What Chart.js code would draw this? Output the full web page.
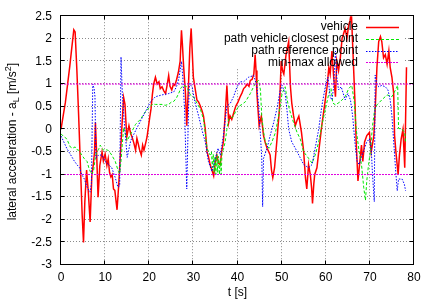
<!DOCTYPE html>
<html><head><meta charset="utf-8">
<script src="https://cdn.jsdelivr.net/npm/chart.js@4"></script>
<style>html,body{margin:0;padding:0;background:#fff}canvas{display:block}</style>
</head><body>
<canvas id="c" width="443" height="306"></canvas>
<script>
const xTickValues=[0,10,20,30,40,50,60,70,80];
const xTickLabels=['0','10','20','30','40','50','60','70','80'];
const yTickValues=[-3,-2.5,-2,-1.5,-1,-0.5,0,0.5,1,1.5,2,2.5];
const yTickLabels=['-3','-2.5','-2','-1.5','-1','-0.5','0','0.5','1','1.5','2','2.5'];
const xTitle='t [s]';
const seriesNames=['vehicle','path vehicle closest point','path reference point','min-max allowed'];
const seriesColors=['#ff0000','#00e800','#0000ff','#e000e0'];

const vehicleT=[0,0.5,1,1.5,2,2.5,2.9,3.2,3.6,4.0,4.4,4.8,5.1,5.4,5.8,6.2,6.6,7.0,7.3,7.6,
7.8,8.1,8.4,8.8,9.3,9.6,10.0,10.4,10.7,11.0,11.3,11.6,11.9,12.2,12.7,13.1,13.6,14.0,14.2,14.5,
14.9,15.4,15.8,16.1,16.5,16.9,17.2,17.5,17.8,18.2,18.5,18.8,19.2,19.5,20.1,20.4,20.7,21.0,21.4,21.8,
22.2,22.5,22.9,23.3,23.7,24.0,24.4,24.7,25.1,25.5,25.8,26.2,26.6,27.0,27.3,27.5,27.8,28.2,28.5,28.9,
29.2,29.5,29.7,30.0,30.4,30.8,31.2,31.6,32.0,32.3,32.7,33.1,33.4,33.8,34.2,34.6,35.0,35.3,35.7,36.1,
36.4,36.8,37.2,37.6,38.0,38.3,38.7,39.1,39.6,40.1,40.6,41.0,41.4,41.8,42.2,42.6,42.9,43.3,43.7,44.0,
44.2,44.4,44.9,45.4,45.9,46.3,46.7,47.1,47.4,47.7,48.0,48.4,48.9,49.5,49.9,50.2,50.5,51.0,51.3,51.6,
52.0,52.3,52.7,53.1,53.5,53.9,54.5,55.0,55.4,55.7,56.1,56.5,56.8,57.0,57.3,57.5,58.0,58.5,59.1,59.8,
60.3,60.7,61.0,61.4,61.8,62.2,62.5,62.9,63.3,63.7,64.0,64.4,64.8,65.2,65.5,65.8,66.1,66.6,66.9,67.3,
67.8,68.1,68.4,68.8,69.3,69.9,70.3,70.9,71.2,71.6,72.0,72.4,72.7,73.1,73.5,73.9,74.3,74.6,75.0,75.4,
75.6,75.9,76.4,76.7,77.1,77.5,77.9,78.3];
const vehicleA=[0,0.3,0.6,1.0,1.4,1.85,2.2,2.15,1.3,0.3,-0.8,-1.9,-2.5,-1.6,-0.9,-1.4,-2.05,-1.0,-0.8,-0.5,
0.15,-0.6,-1.5,-0.8,-0.5,-0.7,-0.55,-0.8,-0.65,-0.95,-1.05,-1.0,-1.32,-1.35,-1.78,-1.2,-0.3,0.4,0.7,0.55,
-0.17,0.08,-0.1,-0.17,-0.3,-0.46,-0.2,-0.32,-0.45,-0.57,-0.35,-0.46,-0.3,-0.17,0.26,0.45,0.76,1.0,1.15,1.0,
1.05,0.9,0.94,0.85,0.79,0.95,1.19,0.95,0.87,1.0,0.97,1.1,1.26,1.5,2.19,1.9,1.37,0.8,0.08,1.0,
1.8,2.23,1.8,1.15,0.9,0.65,0.6,0.51,0.4,0.29,0.0,-0.5,-0.6,-0.78,-0.9,-1.03,-0.7,-0.57,-0.75,-0.78,
-0.5,-0.28,0.3,0.97,0.15,0.3,0.22,0.35,0.51,0.6,0.72,0.8,0.9,0.94,1.0,0.95,1.08,1.1,1.22,1.65,
1.3,0.79,0.08,0.29,-0.14,-0.3,-0.42,-0.5,-0.57,-0.9,-1.07,-0.85,-0.28,0.44,1.51,1.3,1.22,1.65,1.8,1.94,
0.94,0.58,0.3,0.08,0.2,0.29,-0.07,-0.5,-1.07,-1.32,-0.78,-1.0,-1.3,-1.64,-1.2,-1.0,-0.85,-0.42,0.08,0.58,
0.94,1.37,1.22,1.73,1.15,0.72,1.51,1.3,1.58,2.01,2.1,2.23,2.01,2.3,2.4,2.6,1.87,0.65,-0.28,-1.14,
-0.64,-0.35,-0.71,-0.28,-0.14,-0.07,-0.5,-0.14,0.44,1.37,1.94,2.05,1.94,1.58,1.65,1.44,1.73,1.37,1.15,0.79,
-0.14,-0.5,-1.0,-0.57,-0.21,0.0,-0.85,1.37];

const closestT=[0,0.5,1.3,2.1,2.6,3.2,3.6,4.0,4.7,5.3,5.9,6.3,6.7,7.0,7.4,7.8,8.1,8.5,8.9,9.3,
9.6,10.1,10.6,11.0,11.5,12.3,13.0,13.3,13.6,13.9,14.2,14.6,15.0,15.8,16.9,18.0,19.2,20.3,20.8,21.4,
22.2,22.9,23.6,24.4,25.0,25.6,26.2,26.7,27.2,27.8,28.5,28.9,29.3,30.0,30.8,31.6,32.3,32.7,33.1,33.8,
34.1,34.3,34.5,34.7,34.9,35.1,35.3,35.5,35.7,35.9,36.1,36.3,36.5,36.8,37.2,37.6,38.0,38.5,39.1,39.6,
40.2,41.0,41.8,42.9,44.0,44.8,45.2,45.5,45.9,46.3,47.1,47.8,48.6,49.3,50.1,50.8,51.4,52.0,52.7,53.5,
54.2,55.0,56.1,56.9,57.6,58.4,59.1,59.9,60.7,61.2,61.6,62.2,63.3,64.4,65.2,65.9,66.5,66.9,67.5,68.1,
68.6,69.0,69.3,69.7,70.1,70.6,71.1,71.6,72.7,73.9,75.0,75.8,76.3,76.5,77.3,77.9,78.1];
const closestA=[-0.1,-0.15,-0.21,-0.39,-0.42,-0.39,-0.45,-0.46,-0.57,-0.65,-0.71,-0.85,-0.95,-1.0,-0.9,-0.6,-0.5,-0.45,-0.35,-0.42,
-0.46,-0.45,-0.46,-0.5,-0.57,-0.71,-0.93,-0.98,-0.7,-0.32,0.04,-0.1,-0.25,-0.1,0.11,0.22,0.4,0.51,0.56,0.55,
0.55,0.55,0.53,0.55,0.6,0.62,0.7,0.8,0.92,0.97,0.94,0.85,0.76,0.72,0.58,0.44,0.22,-0.1,-0.42,-0.57,
-0.5,-0.85,-0.55,-0.95,-0.6,-1.0,-0.55,-0.95,-0.6,-1.0,-0.65,-1.0,-0.5,-0.45,-0.28,0.0,0.22,0.25,0.29,0.4,
0.5,0.55,0.61,0.79,1.01,1.08,0.87,0.29,-0.05,-0.28,-0.42,-0.28,-0.07,0.29,0.79,0.94,0.58,0.36,0.15,-0.07,
-0.21,-0.5,-0.64,-0.75,-0.57,-0.28,0.08,0.44,0.79,0.9,0.58,0.54,0.61,0.72,0.9,0.97,0.58,0.0,-0.45,-0.78,
-1.28,-1.57,-1.14,-0.78,-0.5,0.08,0.44,0.54,0.65,0.76,0.72,0.87,0.97,0.02,0.0,-0.07,-0.3];

const refT=[0,0.5,1.3,2.4,3.0,3.6,4.2,4.7,5.3,5.9,6.6,6.9,7.2,7.5,7.7,7.9,8.5,9.3,10.0,10.8,
11.5,12.3,12.9,13.3,13.6,13.9,14.3,14.6,15.0,15.8,16.9,18.0,19.2,20.3,21.4,22.9,24.4,25.6,26.2,26.7,
27.3,27.6,28.0,28.5,28.9,29.1,29.7,30.4,31.2,31.9,32.7,33.4,34.2,35.0,35.6,36.1,36.8,37.6,38.4,39.1,
39.9,40.6,41.4,42.5,43.7,44.4,44.8,45.2,45.5,45.7,45.9,46.7,47.4,48.2,48.9,49.7,50.1,50.8,51.2,51.6,
52.3,53.1,53.9,55.0,56.1,56.9,57.6,58.4,59.1,59.9,60.5,61.0,61.4,61.8,62.2,62.5,62.9,63.5,64.4,65.0,
65.6,66.1,66.6,67.1,67.6,68.2,68.8,69.3,69.9,70.3,70.6,71.0,71.2,71.6,72.0,72.7,73.5,74.1,74.6,75.0,
75.4,75.8,76.2,76.5,77.3,77.8,78.1];
const refA=[-0.15,-0.25,-0.42,-0.6,-0.7,-0.78,-0.85,-1.0,-1.1,-1.28,-1.39,-1.2,1.0,0.9,0.72,-0.64,-0.57,-0.57,-0.71,-0.78,
-0.85,-1.07,-1.28,-1.25,1.6,0.79,0.2,-0.14,-0.62,-0.25,-0.03,0.18,0.4,0.61,0.72,0.76,0.79,0.83,0.95,1.12,
1.5,1.15,0.44,-1.32,0.44,1.01,0.94,0.58,0.29,0.0,-0.28,-0.71,-0.93,-0.64,-0.42,-0.57,-0.14,0.51,0.58,0.72,
0.94,1.05,1.05,1.15,1.19,0.94,0.51,-0.14,-0.64,-1.71,-0.64,-0.42,-0.14,0.15,0.44,0.87,0.97,0.79,0.44,0.0,
-0.28,-0.42,-0.57,-0.78,-0.85,-0.78,-0.42,0.0,0.51,0.94,1.15,0.72,0.65,0.94,1.73,1.15,0.87,0.94,0.65,0.79,
0.65,0.29,-0.28,-0.71,-0.78,-0.57,-0.42,-0.28,-0.21,-0.42,-1.0,-1.6,1.2,1.0,0.94,0.97,0.94,0.87,0.65,0.29,
-0.28,-0.85,-1.36,-1.1,-1.1,-1.21,-1.36];

const limitT=[0,80];
const maxA=[1,1];
const minA=[-1,-1];

function pts(t,a){return t.map((v,i)=>({x:v,y:a[i]}));}
const FONT='"Liberation Sans", Arial, Helvetica, sans-serif';
const keyStyles=[
  {color:seriesColors[0],width:1.5,dash:[]},
  {color:seriesColors[1],width:1,dash:[3,2]},
  {color:seriesColors[2],width:1,dash:[1.5,1.5]},
  {color:seriesColors[3],width:1,dash:[2,1]}
];

const framePlugin={
  id:'frame',
  beforeDatasetsDraw(chart){
    const {ctx,chartArea:a,scales:{x,y}}=chart;
    const key={l:a.right-244,r:a.right-9,b:a.top+53};
    ctx.save();
    ctx.strokeStyle='#8a8a8a';ctx.lineWidth=1;ctx.setLineDash([1,2]);
    xTickValues.forEach(v=>{
      if(v===x.min||v===x.max)return;
      const px=Math.round(x.getPixelForValue(v))-0.5;
      ctx.beginPath();
      ctx.moveTo(px,(px>key.l&&px<key.r)?key.b:a.top);
      ctx.lineTo(px,a.bottom);ctx.stroke();
    });
    yTickValues.forEach(v=>{
      if(v===y.min||v===y.max)return;
      const py=Math.round(y.getPixelForValue(v))-0.5;
      ctx.beginPath();
      if(py<key.b){ctx.moveTo(a.left,py);ctx.lineTo(key.l,py);ctx.moveTo(key.r,py);ctx.lineTo(a.right,py);}
      else{ctx.moveTo(a.left,py);ctx.lineTo(a.right,py);}
      ctx.stroke();
    });
    ctx.restore();
  },
  afterDatasetsDraw(chart){
    const {ctx,chartArea:a,scales:{x,y}}=chart;
    ctx.save();
    ctx.setLineDash([]);ctx.strokeStyle='#000';ctx.lineWidth=1;
    const L=Math.round(a.left)-0.5,R=Math.round(a.right)-0.5,T=Math.round(a.top)-0.5,B=Math.round(a.bottom)-0.5;
    ctx.beginPath();
    xTickValues.forEach(v=>{
      if(v===x.min||v===x.max)return;
      const px=Math.round(x.getPixelForValue(v))-0.5;
      ctx.moveTo(px,B);ctx.lineTo(px,B-4);ctx.moveTo(px,T);ctx.lineTo(px,T+4);
    });
    yTickValues.forEach(v=>{
      if(v===y.min||v===y.max)return;
      const py=Math.round(y.getPixelForValue(v))-0.5;
      ctx.moveTo(L,py);ctx.lineTo(L+4,py);ctx.moveTo(R,py);ctx.lineTo(R-4,py);
    });
    ctx.stroke();
    ctx.strokeRect(L,T,R-L,B-T);
    // key
    seriesNames.forEach((name,i)=>{
      const yy=a.top+10.5+11.9*i;
      const st=keyStyles[i];
      ctx.save();
      ctx.beginPath();
      ctx.strokeStyle=st.color;ctx.lineWidth=st.width;ctx.setLineDash(st.dash);
      ctx.moveTo(a.right-48,Math.round(yy)+0.5);ctx.lineTo(a.right-15,Math.round(yy)+0.5);ctx.stroke();
      ctx.restore();
      ctx.font='12px '+FONT;ctx.fillStyle='#000';ctx.textAlign='right';ctx.textBaseline='middle';
      ctx.fillText(name,a.right-56,yy);
    });
    ctx.restore();
  },
  afterDraw(chart){
    const {ctx,chartArea:a}=chart;
    ctx.save();
    ctx.fillStyle='#000';
    ctx.font='12px '+FONT;ctx.textAlign='center';ctx.textBaseline='middle';
    ctx.fillText(xTitle,(a.left+a.right)/2,293);
    const parts=[['lateral acceleration - a',12,0],['L',9,3],[' [m/s',12,0],['2',9,-5],[']',12,0]];
    let W=0;
    parts.forEach(p=>{ctx.font=p[1]+'px '+FONT;W+=ctx.measureText(p[0]).width;});
    ctx.translate(16,(a.top+a.bottom)/2+1);ctx.rotate(-Math.PI/2);
    ctx.textAlign='left';ctx.textBaseline='alphabetic';
    let cx=-W/2;
    parts.forEach(p=>{ctx.font=p[1]+'px '+FONT;ctx.fillText(p[0],cx,p[2]);cx+=ctx.measureText(p[0]).width;});
    ctx.restore();
  }
};

new Chart(document.getElementById('c'),{
  type:'line',
  data:{datasets:[
    {label:seriesNames[0],data:pts(vehicleT,vehicleA),borderColor:seriesColors[0],borderWidth:1.5,order:4},
    {label:seriesNames[1],data:pts(closestT,closestA),borderColor:seriesColors[1],borderWidth:1,borderDash:[3,2],order:3},
    {label:seriesNames[2],data:pts(refT,refA),borderColor:seriesColors[2],borderWidth:1,borderDash:[1.5,1.5],order:2},
    {label:seriesNames[3],data:pts(limitT,maxA),borderColor:seriesColors[3],borderWidth:1,borderDash:[2,1],order:1},
    {label:seriesNames[3],data:pts(limitT,minA),borderColor:seriesColors[3],borderWidth:1,borderDash:[2,1],order:1}
  ]},
  options:{
    responsive:false,animation:false,devicePixelRatio:1,
    elements:{point:{radius:0,hoverRadius:0},line:{tension:0,fill:false}},
    layout:{padding:{left:0,top:9,right:29,bottom:0}},
    plugins:{legend:{display:false},tooltip:{enabled:false}},
    events:[],
    scales:{
      x:{type:'linear',min:0,max:80,
        afterFit(s){s.height=41;},
        afterBuildTicks(s){s.ticks=xTickValues.map(v=>({value:v}));},
        ticks:{callback:v=>xTickLabels[xTickValues.indexOf(v)],padding:5,color:'#000',font:{family:FONT,size:12},maxRotation:0,autoSkip:false},
        grid:{display:false,drawTicks:false},border:{display:false}},
      y:{type:'linear',min:-3,max:2.5,
        afterFit(s){s.width=61;},
        afterBuildTicks(s){s.ticks=yTickValues.map(v=>({value:v}));},
        ticks:{callback:v=>yTickLabels[yTickValues.indexOf(v)],padding:9,color:'#000',font:{family:FONT,size:12},autoSkip:false},
        grid:{display:false,drawTicks:false},border:{display:false}}
    }
  },
  plugins:[framePlugin]
});
</script>
</body></html>
